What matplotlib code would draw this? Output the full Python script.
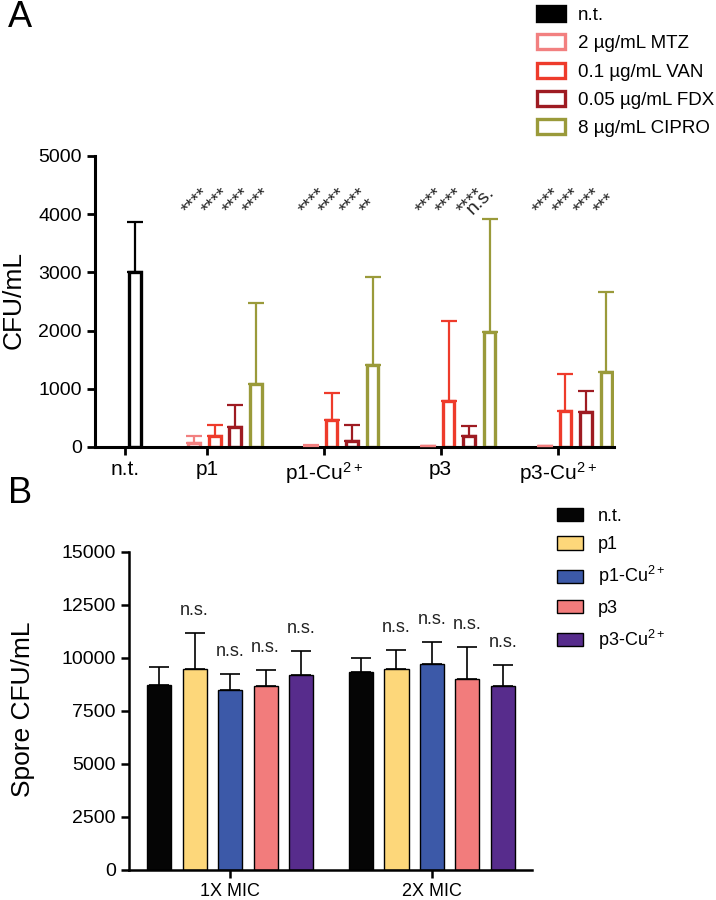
import matplotlib
matplotlib.use("Agg")
import matplotlib.pyplot as plt
import numpy as np
from matplotlib.patches import Patch

plt.rcParams['font.family'] = ['Liberation Sans', 'DejaVu Sans']
plt.rcParams['mathtext.fontset'] = 'custom'
plt.rcParams['mathtext.rm'] = 'Liberation Sans'
plt.rcParams['mathtext.default'] = 'regular'

# ---- panel A data ----
groups_a = ["n.t.", "p1", "p1-Cu$^{2+}$", "p3", "p3-Cu$^{2+}$"]
treatments = ["2 µg/mL MTZ", "0.1 µg/mL VAN", "0.05 µg/mL FDX", "8 µg/mL CIPRO"]
treat_colors = ["#F28080", "#EE3B2B", "#9E1B22", "#9A9A3A"]

nt_mean = 3000
nt_err = 3860  # top of error bar

# rows: treatments, cols: p1, p1-Cu, p3, p3-Cu
mean_a = np.array([
    [75, 20, 15, 15],        # MTZ
    [190, 463, 790, 618],    # VAN
    [350, 108, 195, 606],    # FDX
    [1076, 1408, 1980, 1282] # CIPRO
])
errtop_a = np.array([
    [195, 30, 25, 25],
    [378, 932, 2168, 1248],
    [720, 372, 360, 961],
    [2467, 2924, 3926, 2656]
])
signif_a = [
    ["****", "****", "****", "****"],
    ["****", "****", "****", "****"],
    ["****", "****", "****", "****"],
    ["****", "**", "n.s.", "***"],
]

# ---- panel B data ----
groups_b = ["1X MIC", "2X MIC"]
series_b = ["n.t.", "p1", "p1-Cu$^{2+}$", "p3", "p3-Cu$^{2+}$"]
colors_b = ["#050505", "#FDD77A", "#3C59A8", "#F27C7C", "#572C8C"]
mean_b = np.array([
    [8700, 9470, 8500, 8670, 9170],
    [9310, 9450, 9700, 9000, 8670],
])
errtop_b = np.array([
    [9590, 11150, 9230, 9430, 10340],
    [10000, 10380, 10760, 10520, 9640],
])
signif_b = ["", "n.s.", "n.s.", "n.s.", "n.s."]

fig = plt.figure(figsize=(7.16, 9.0), dpi=100)

# ================= panel A =================
ax = fig.add_axes([95/716, 1-447/900, 519/716, 291/900])
tick_pos = np.array([0, 4.0, 9.7, 15.4, 21.1])
offsets = np.array([-0.62, 0.38, 1.38, 2.38])
bw = 0.57
lw_bar = 2.4

ax.bar(tick_pos[0] + 0.5, nt_mean, width=bw, facecolor="white",
       edgecolor="black", linewidth=lw_bar, zorder=2)
ax.errorbar(tick_pos[0] + 0.5, nt_mean, yerr=[[0], [nt_err - nt_mean]], fmt="none",
            ecolor="black", elinewidth=1.6, capsize=5.5, capthick=1.6, zorder=3)

for i, c in enumerate(treat_colors):
    xs = tick_pos[1:] + offsets[i]
    ax.bar(xs, mean_a[i], width=bw, facecolor="white", edgecolor=c,
           linewidth=lw_bar, zorder=2)
    ax.errorbar(xs, mean_a[i], yerr=[np.zeros(4), errtop_a[i] - mean_a[i]],
                fmt="none", ecolor=c, elinewidth=1.6, capsize=5.5, capthick=1.6,
                zorder=3)
    for j, lab in enumerate(signif_a[i]):
        dx = -0.8 if lab == "n.s." else -0.3
        ax.text(xs[j] + dx, 3980, lab, rotation=45, rotation_mode="anchor",
                ha="left", va="baseline", fontsize=14, color="#222222")

ax.set_xlim(-1.46, 23.85)
ax.set_ylim(0, 5000)
ax.set_yticks([0, 1000, 2000, 3000, 4000, 5000])
ax.set_xticks(tick_pos)
ax.set_xticklabels(groups_a)
ax.tick_params(axis="y", labelsize=14, length=6, width=2, direction="out")
ax.tick_params(axis="x", labelsize=15, length=6, width=2, direction="out")
for s in ["top", "right"]:
    ax.spines[s].set_visible(False)
for s in ["left", "bottom"]:
    ax.spines[s].set_linewidth(2.2)
ax.set_ylabel("CFU/mL", fontsize=19)
ax.yaxis.set_label_coords(-0.133, 0.505)

handles_a = [Patch(facecolor="black", edgecolor="black", linewidth=lw_bar, label="n.t.")]
for lab, c in zip(treatments, treat_colors):
    handles_a.append(Patch(facecolor="white", edgecolor=c, linewidth=lw_bar, label=lab))
fig.legend(handles=handles_a, loc="upper left", bbox_to_anchor=(537/716, 1-6/900),
           frameon=False, fontsize=13.5, handlelength=1.5, handleheight=0.85,
           handletextpad=0.7, labelspacing=0.55, borderpad=0, borderaxespad=0)

# ================= panel B =================
axb = fig.add_axes([129/716, 1-870/900, 403/716, 318.3/900])
grp_b = np.array([0, 5.69])
slot = np.arange(5) - 2
bwb = 0.68
for k, c in enumerate(colors_b):
    xs = grp_b + slot[k]
    axb.bar(xs, mean_b[:, k], width=bwb, color=c, edgecolor="black",
            linewidth=1.0, zorder=2)
    axb.errorbar(xs, mean_b[:, k], yerr=[np.zeros(2), errtop_b[:, k] - mean_b[:, k]],
                 fmt="none", ecolor="black", elinewidth=1.2, capsize=7,
                 capthick=1.2, zorder=1)
    if signif_b[k]:
        for g in range(2):
            axb.text(xs[g], errtop_b[g, k] + 850, signif_b[k], ha="center",
                     va="baseline", fontsize=13, color="#222222")

axb.set_xlim(-2.85, 8.51)
axb.set_ylim(0, 15000)
axb.set_yticks([0, 2500, 5000, 7500, 10000, 12500, 15000])
axb.set_xticks(grp_b)
axb.set_xticklabels(groups_b)
axb.tick_params(axis="y", labelsize=14, length=6, width=1.8, direction="out")
axb.tick_params(axis="x", labelsize=13, length=6, width=1.8, direction="out")
for s in ["top", "right"]:
    axb.spines[s].set_visible(False)
for s in ["left", "bottom"]:
    axb.spines[s].set_linewidth(1.8)
axb.set_ylabel("Spore CFU/mL", fontsize=19)
axb.yaxis.set_label_coords(-0.233, 0.506)

handles_b = [Patch(facecolor=c, edgecolor="black", linewidth=1.0, label=l)
             for l, c in zip(series_b, colors_b)]
fig.legend(handles=handles_b, loc="upper left", bbox_to_anchor=(557/716, 1-508/900),
           frameon=False, fontsize=13, handlelength=1.45, handleheight=0.75,
           handletextpad=0.8, labelspacing=0.62, borderpad=0, borderaxespad=0)

fig.text(8/716, 1-0/900, "A", fontsize=26, ha="left", va="top")
fig.text(8/716, 1-476/900, "B", fontsize=26, ha="left", va="top")

fig.savefig("out.png", dpi=100)
